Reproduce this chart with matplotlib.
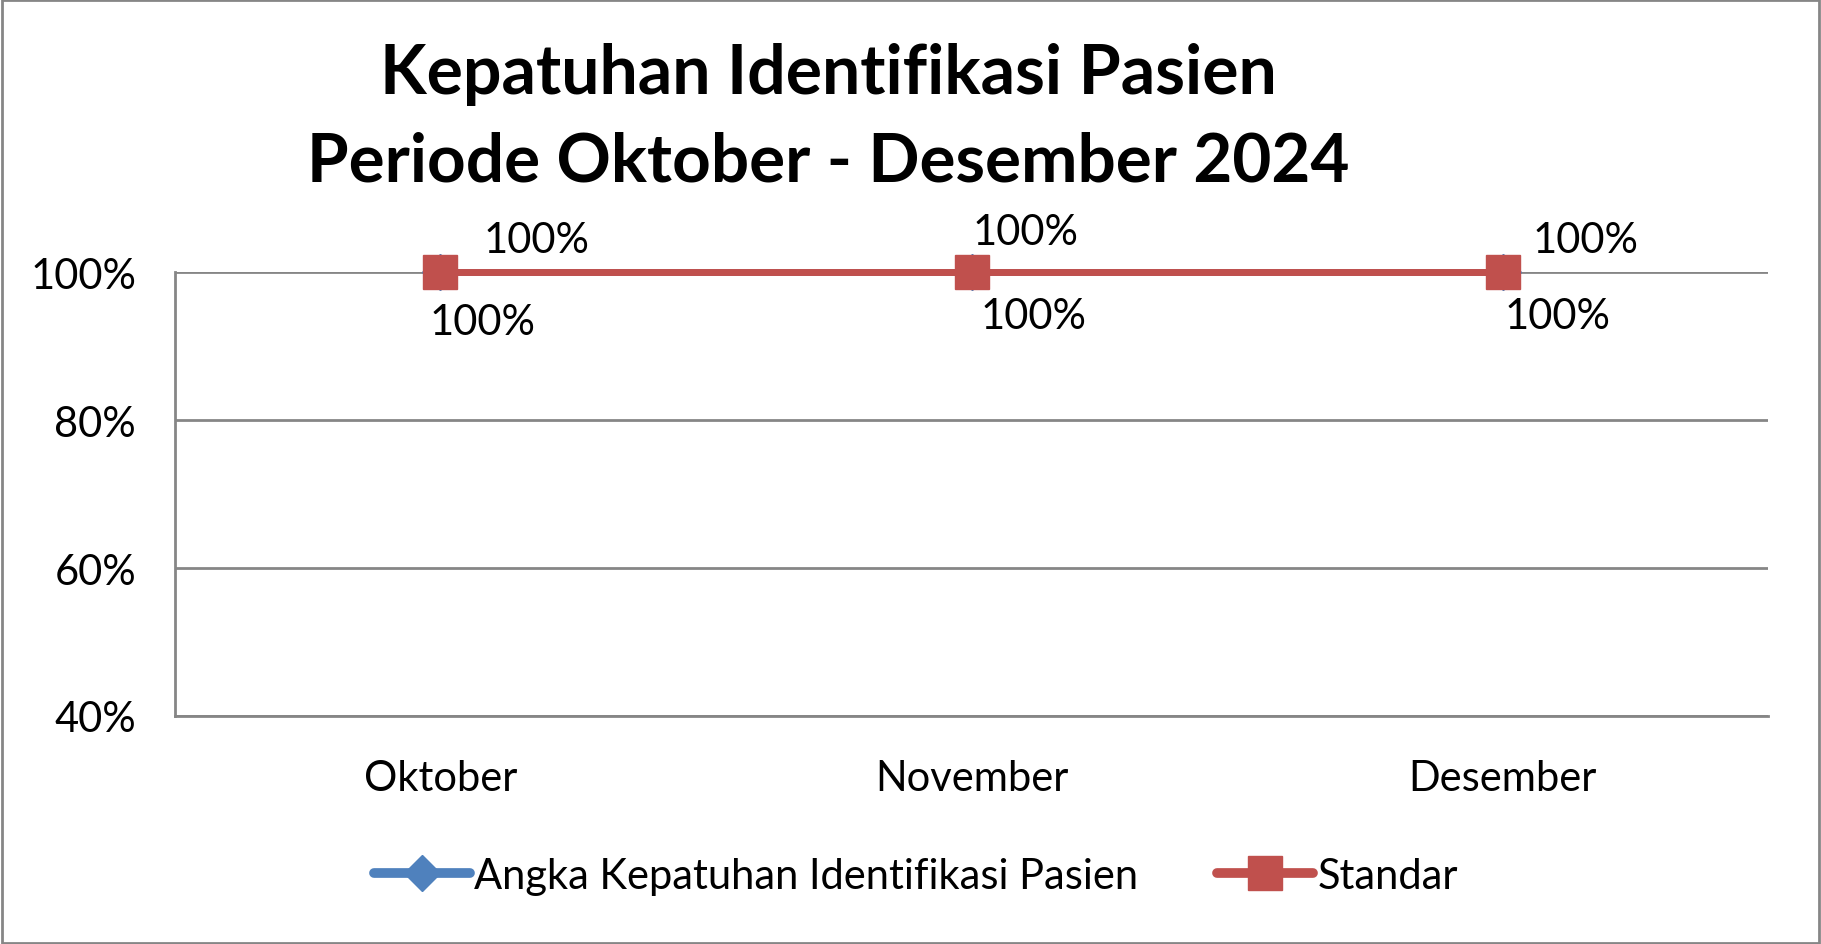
import matplotlib
matplotlib.use("Agg")
import matplotlib.pyplot as plt
from matplotlib.patches import Rectangle

plt.rcParams['font.family'] = ['Lato', 'DejaVu Sans']

bulan = ['Oktober', 'November', 'Desember']
angka = [1.0, 1.0, 1.0]      # Angka Kepatuhan Identifikasi Pasien
standar = [1.0, 1.0, 1.0]    # Standar
yticks = [0.4, 0.6, 0.8, 1.0]

# posisi label data (pixel offset), mengikuti gambar asli
off_atas = [(96, 32), (54, 40), (83, 32)]
off_bawah = [(42, -50), (62, -44), (55, -44)]

biru = '#4F81BD'
merah = '#C0504D'
abu = '#868686'

fig = plt.figure(figsize=(18.21, 9.45), dpi=100)
ax = fig.add_axes([0.0961, 0.2413, 0.9709 - 0.0961, 0.711 - 0.2413])

x = list(range(len(bulan)))
ax.plot(x, angka, color=biru, lw=5, marker='D', ms=18, zorder=3,
        solid_capstyle='round', label='Angka Kepatuhan Identifikasi Pasien')
ax.plot(x, standar, color=merah, lw=5, marker='s', ms=24, zorder=4,
        solid_capstyle='round', label='Standar')

for i in x:
    ax.annotate(f'{standar[i]:.0%}', (i, standar[i]), xytext=off_atas[i],
                textcoords='offset pixels', ha='center', va='center',
                fontsize=30, zorder=5)
    ax.annotate(f'{angka[i]:.0%}', (i, angka[i]), xytext=off_bawah[i],
                textcoords='offset pixels', ha='center', va='center',
                fontsize=30, zorder=5)

ax.set_xlim(-0.5, len(bulan) - 0.5)
ax.set_ylim(0.4, 1.0)
ax.set_yticks(yticks)
ax.set_yticklabels([f'{v:.0%}' for v in yticks])
ax.set_xticks(x)
ax.set_xticklabels(bulan)
ax.tick_params(axis='both', labelsize=30, length=0)
ax.tick_params(axis='y', pad=28)
ax.tick_params(axis='x', pad=31)
ax.grid(axis='y', color=abu, lw=2)
ax.set_axisbelow(True)
for s in ['top', 'right']:
    ax.spines[s].set_visible(False)
ax.spines['left'].set_color(abu)
ax.spines['left'].set_linewidth(2)
ax.spines['bottom'].set_color(abu)
ax.spines['bottom'].set_linewidth(2)
for ln in ax.lines:
    ln.set_clip_on(False)

fig.text(0.455, 0.921, 'Kepatuhan Identifikasi Pasien', ha='center', va='center',
         fontsize=49, fontweight='bold')
fig.text(0.455, 0.828, 'Periode Oktober - Desember 2024', ha='center', va='center',
         fontsize=48.5, fontweight='bold')

leg = fig.legend(loc='center', bbox_to_anchor=(0.503, 0.072), ncol=2, frameon=False,
                 fontsize=30, handlelength=2.3, columnspacing=1.9, handletextpad=0.1)
for h in leg.get_lines():
    h.set_linewidth(7)

fig.patches.append(Rectangle((0.001, 0.001), 0.998, 0.998, transform=fig.transFigure,
                             fill=False, edgecolor=abu, lw=2))

fig.savefig('out.png', dpi=100)
